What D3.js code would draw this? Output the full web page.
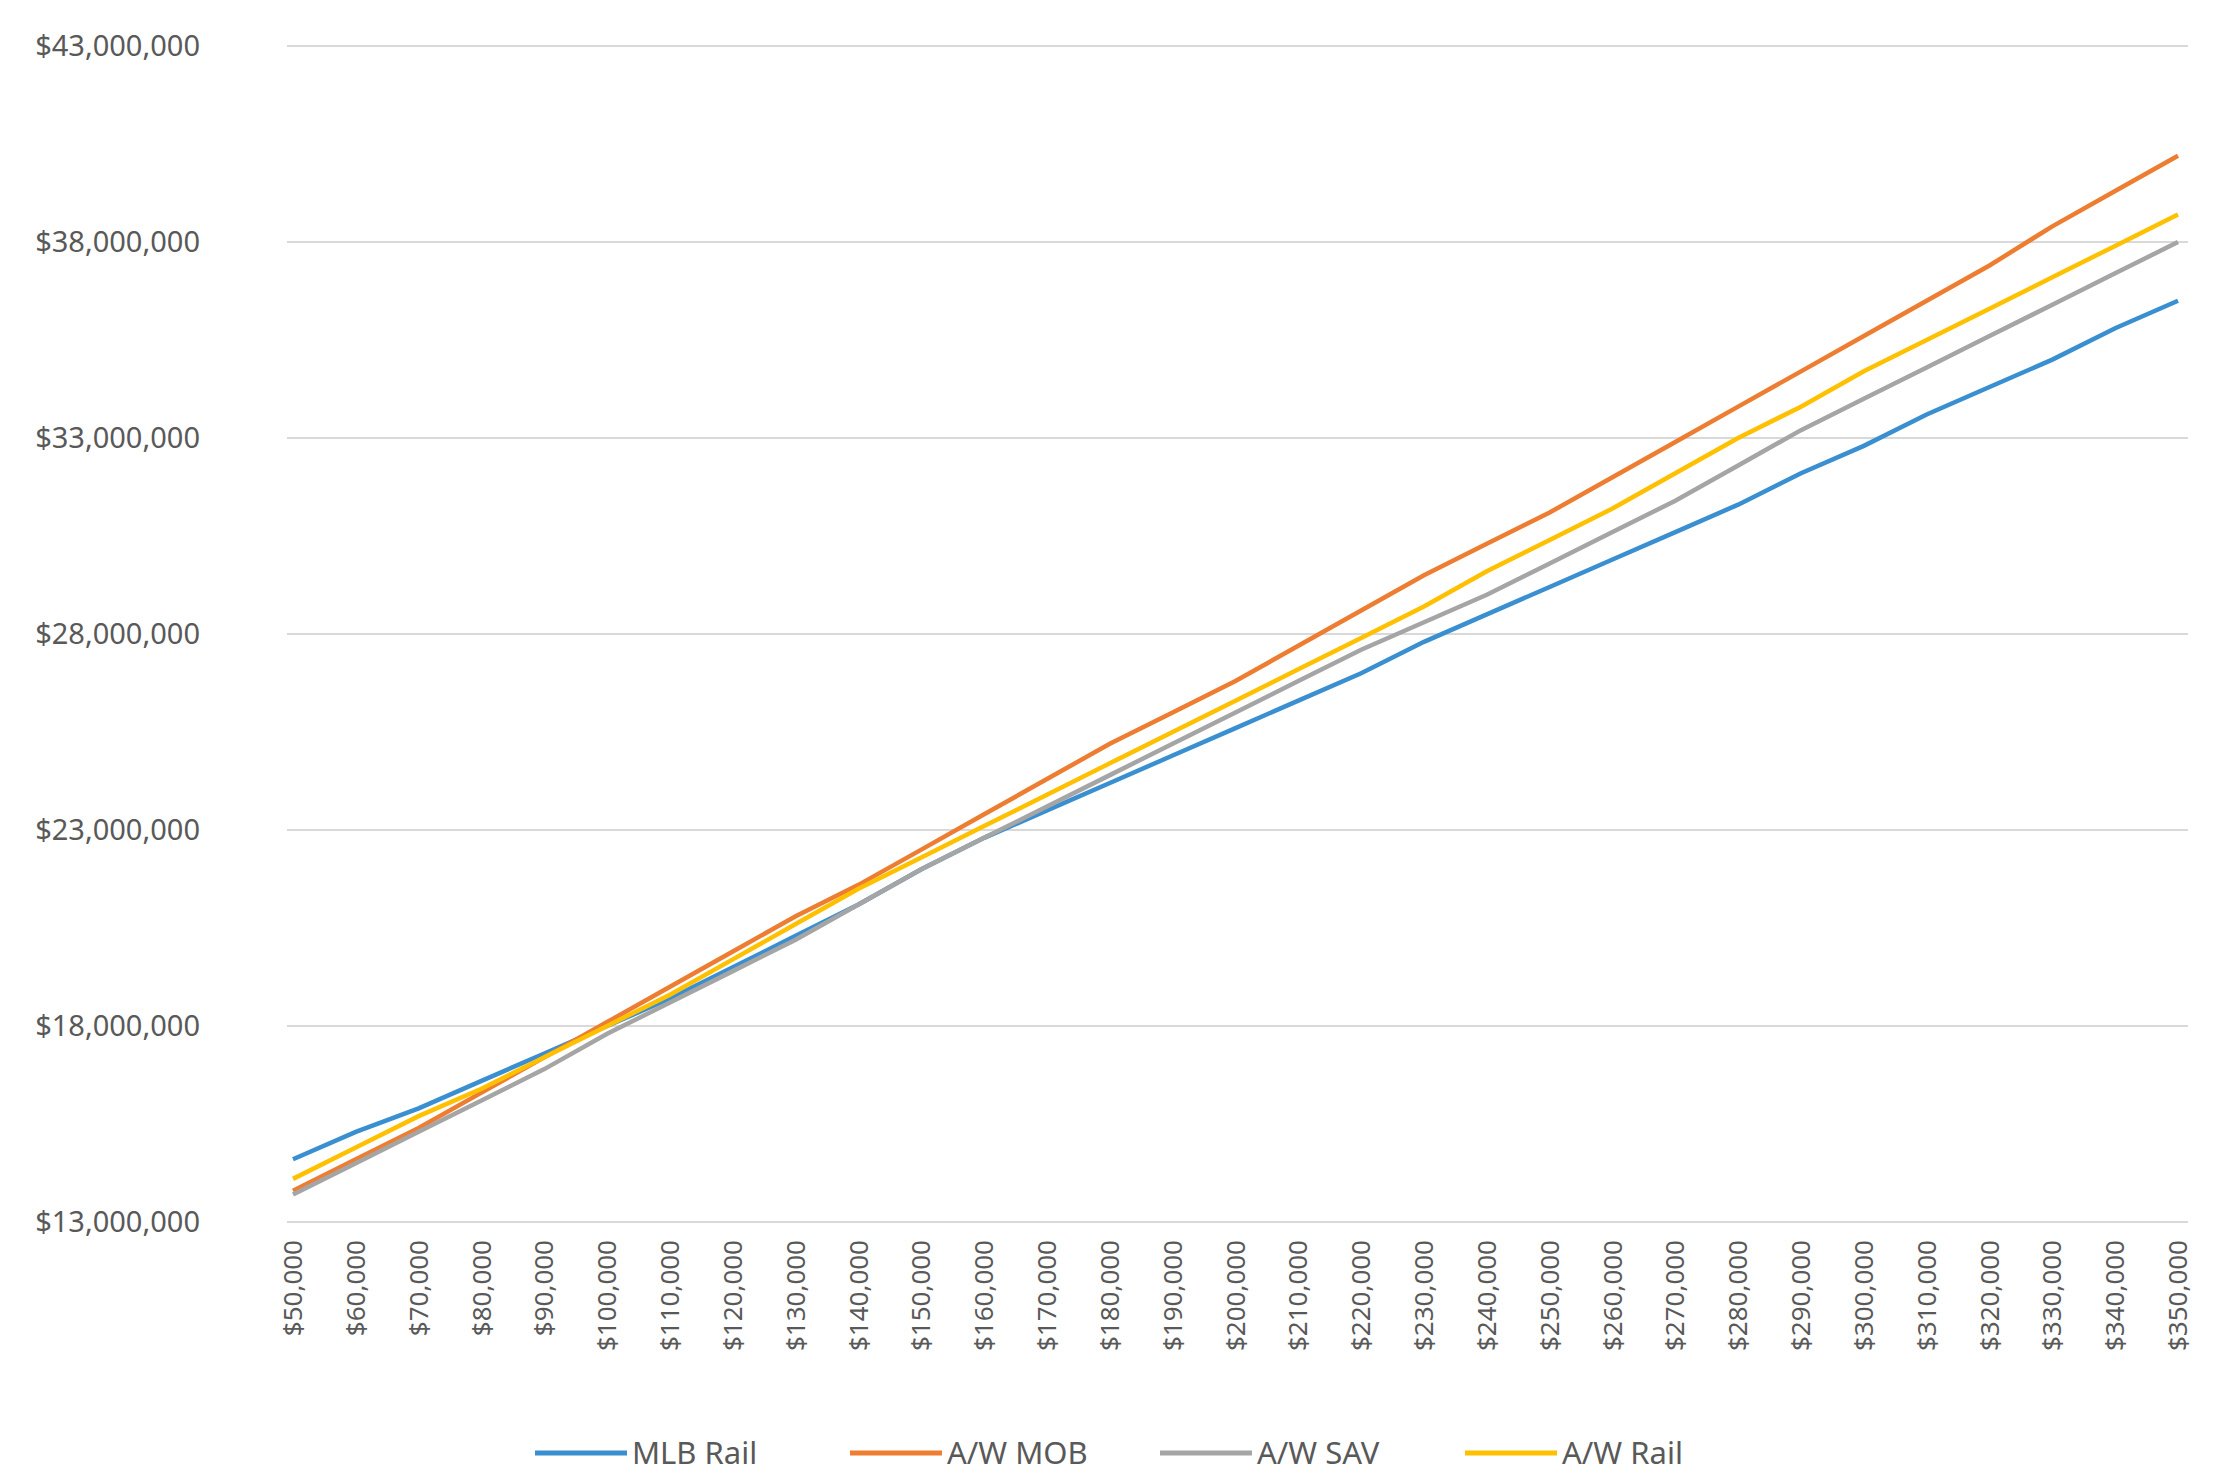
<!DOCTYPE html>
<html><head><meta charset="utf-8">
<script src="https://cdn.jsdelivr.net/npm/d3@7"></script>
<style>body{margin:0;background:#fff}text{font-family:"Noto Sans",Arial,sans-serif;fill:#595959}</style>
</head><body><div id="chart"></div>
<script>
// x categories (income) and series values (millions)
const incomes = d3.range(31).map(i => 50000 + i * 10000);
const mlbRail = [14.6,15.3,15.9,16.6,17.3,18.0,18.7,19.5,20.3,21.1,22.0,22.8,23.5,24.2,24.9,25.6,26.3,27.0,27.8,28.5,29.2,29.9,30.6,31.3,32.1,32.8,33.6,34.3,35.0,35.8,36.5];
const awMob = [13.8,14.6,15.4,16.3,17.2,18.1,19.0,19.9,20.8,21.6,22.5,23.4,24.3,25.2,26.0,26.8,27.7,28.6,29.5,30.3,31.1,32.0,32.9,33.8,34.7,35.6,36.5,37.4,38.4,39.3,40.2];
const awSav = [13.7,14.5,15.3,16.1,16.9,17.8,18.6,19.4,20.2,21.1,22.0,22.8,23.6,24.4,25.2,26.0,26.8,27.6,28.3,29.0,29.8,30.6,31.4,32.3,33.2,34.0,34.8,35.6,36.4,37.2,38.0];
const awRail = [14.1,14.9,15.7,16.4,17.2,18.0,18.8,19.7,20.6,21.5,22.3,23.1,23.9,24.7,25.5,26.3,27.1,27.9,28.7,29.6,30.4,31.2,32.1,33.0,33.8,34.7,35.5,36.3,37.1,37.9,38.7];
const yTicks = [13,18,23,28,33,38,43];

const series = [
  { name: "MLB Rail", values: mlbRail, color: "#3a8fd0" },
  { name: "A/W MOB", values: awMob, color: "#ed7d31" },
  { name: "A/W SAV", values: awSav, color: "#a5a5a5" },
  { name: "A/W Rail", values: awRail, color: "#ffc000" }
];

const width = 2225, height = 1479;
const svg = d3.select("#chart").append("svg").attr("width", width).attr("height", height);

const x = d3.scalePoint().domain(incomes).range([293, 2178]);
const y = d3.scaleLinear().domain([13, 43]).range([1222, 46]);

// gridlines
svg.append("g").selectAll("line").data(yTicks).join("line")
  .attr("x1", 287).attr("x2", 2188)
  .attr("y1", d => y(d)).attr("y2", d => y(d))
  .attr("stroke", "#d9d9d9").attr("stroke-width", 2);

const fmt = d3.format("$,");
svg.append("g").selectAll("text").data(yTicks).join("text")
  .attr("x", 200).attr("y", d => y(d)).attr("dy", "0.35em")
  .attr("text-anchor", "end").attr("font-size", 29)
  .text(d => fmt(d * 1e6));

// x tick labels, rotated to read upward
svg.append("g").selectAll("text").data(incomes).join("text")
  .attr("transform", d => `translate(${x(d) + 9},1240) rotate(-90)`)
  .attr("text-anchor", "end").attr("font-size", 26)
  .text(d => fmt(d));

// lines
const line = d3.line().x((d, i) => x(incomes[i])).y(d => y(d));
svg.append("g").selectAll("path").data(series).join("path")
  .attr("d", d => line(d.values))
  .attr("fill", "none").attr("stroke", d => d.color).attr("stroke-width", 4.5);

// legend
const legX = [535, 850, 1160, 1465];
const leg = svg.append("g").selectAll("g").data(series).join("g")
  .attr("transform", (d, i) => `translate(${legX[i]},1453)`);
leg.append("line").attr("x1", 0).attr("x2", 92).attr("stroke", d => d.color).attr("stroke-width", 5);
leg.append("text").attr("x", 97).attr("dy", "0.35em").attr("font-size", 31).text(d => d.name);
</script></body></html>
